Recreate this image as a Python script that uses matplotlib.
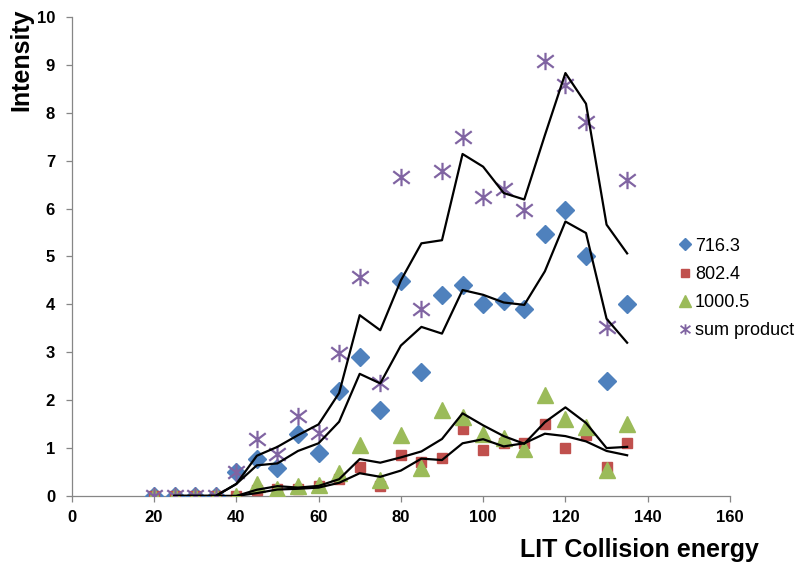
import matplotlib
matplotlib.use("Agg")
import matplotlib.pyplot as plt
from matplotlib.lines import Line2D
from matplotlib.path import Path
import numpy as np
import pandas as pd

energy = [20, 25, 30, 35, 40, 45, 50, 55, 60, 65, 70, 75, 80, 85, 90, 95,
          100, 105, 110, 115, 120, 125, 130, 135]
s716 = [0, 0, 0, 0, 0.5, 0.78, 0.58, 1.3, 0.9, 2.2, 2.9, 1.8, 4.48, 2.58,
        4.2, 4.4, 4.0, 4.08, 3.9, 5.48, 5.98, 5.0, 2.4, 4.0]
s802 = [0, 0, 0, 0, 0, 0.12, 0.15, 0.15, 0.2, 0.35, 0.6, 0.2, 0.86, 0.7,
        0.8, 1.4, 0.97, 1.1, 1.1, 1.5, 1.0, 1.28, 0.6, 1.1]
s1000 = [0, 0, 0, 0, 0, 0.26, 0.15, 0.2, 0.22, 0.48, 1.06, 0.33, 1.28, 0.58,
         1.8, 1.65, 1.3, 1.2, 0.98, 2.1, 1.6, 1.45, 0.55, 1.5]
ssum = [0, 0, 0, 0, 0.5, 1.18, 0.87, 1.67, 1.32, 2.98, 4.57, 2.35, 6.65, 3.9,
        6.78, 7.5, 6.25, 6.4, 5.98, 9.08, 8.58, 7.8, 3.53, 6.6]
labels = ["716.3", "802.4", "1000.5", "sum product"]

plt.rcParams['font.family'] = ['Liberation Sans', 'DejaVu Sans']

fig = plt.figure(figsize=(8, 5.79), dpi=100)
ax = fig.add_axes([0.0896, 0.1434, 0.8229, 0.8272])

blue, red, green, purple = "#4F81BD", "#C0504D", "#9BBB59", "#8064A2"
star = Path([(0, -1), (0, 1), (-0.95, -0.72), (0.95, 0.72), (-0.95, 0.72), (0.95, -0.72)],
            [Path.MOVETO, Path.LINETO, Path.MOVETO, Path.LINETO, Path.MOVETO, Path.LINETO])

ax.plot(energy, s716, linestyle='none', marker='D', ms=9, color=blue, mec=blue, zorder=3)
ax.plot(energy, s802, linestyle='none', marker='s', ms=7, color=red, mec=red, zorder=4)
ax.plot(energy, s1000, linestyle='none', marker='^', ms=12, color=green, mec=green, zorder=5)
ax.plot(energy, ssum, linestyle='none', marker=star, ms=12.5, mfc='none', mec=purple,
        mew=1.6, zorder=6)

for series in (s716, s802, s1000, ssum):
    ma = pd.Series(series, index=energy).rolling(2).mean().dropna()
    ax.plot(ma.index, ma.values, color='black', lw=1.6, zorder=7)

ax.set_xlim(0, 160)
ax.set_ylim(0, 10)
ax.set_xticks(np.arange(0, 161, 20))
ax.set_yticks(np.arange(0, 11, 1))
for sp in ('top', 'right'):
    ax.spines[sp].set_visible(False)
for sp in ('left', 'bottom'):
    ax.spines[sp].set_color('#868686')
    ax.spines[sp].set_linewidth(0.9)
ax.tick_params(axis='both', direction='out', length=4, width=0.9, color='#868686',
               labelsize=12)
ax.tick_params(axis='y', pad=8)
ax.tick_params(axis='x', pad=6)
for lab in ax.get_xticklabels() + ax.get_yticklabels():
    lab.set_fontweight('bold')

fig.text(0.799, 0.038, "LIT Collision energy", fontsize=18, fontweight='bold',
         ha='center', va='baseline')
fig.text(0.012, 0.986, "Intensity", fontsize=18, fontweight='bold', rotation=90,
         ha='left', va='top')

handles = [
    Line2D([], [], linestyle='none', marker='D', ms=6, color=blue),
    Line2D([], [], linestyle='none', marker='s', ms=6, color=red),
    Line2D([], [], linestyle='none', marker='^', ms=8, color=green),
    Line2D([], [], linestyle='none', marker=star, ms=7.5, mew=1.3, mfc='none', mec=purple),
]
fig.legend(handles, labels, loc='upper left', bbox_to_anchor=(0.838, 0.605),
           frameon=False, fontsize=13, handlelength=0.6, handletextpad=0.25,
           labelspacing=0.62, borderpad=0)

fig.savefig("out.png", dpi=100)
